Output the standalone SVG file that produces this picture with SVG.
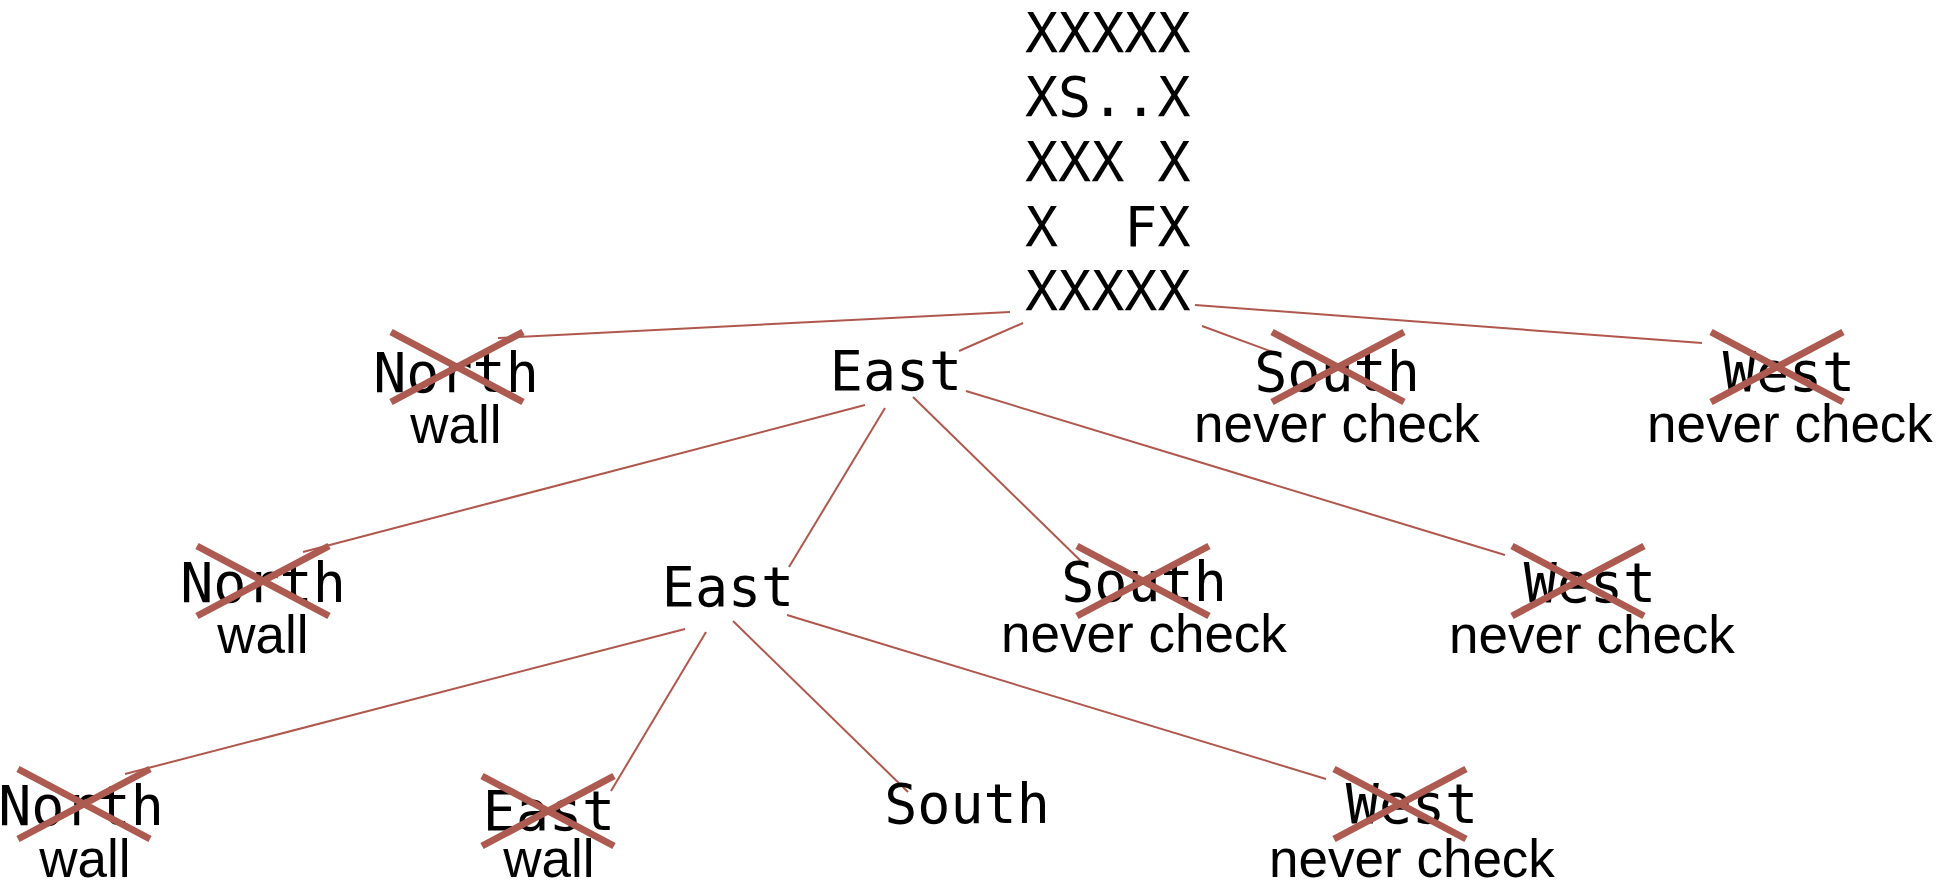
<svg xmlns="http://www.w3.org/2000/svg" width="1954" height="882" viewBox="0 0 1954 882">
  <style>
    .maze { font-family: "DejaVu Sans Mono", "Liberation Mono", monospace; font-size: 55px; fill: #000; white-space: pre; }
    .dir { font-family: "DejaVu Sans Mono", "Liberation Mono", monospace; font-size: 55px; fill: #000; text-anchor: middle; }
    .note { font-family: "Liberation Sans", Arial, sans-serif; font-size: 53px; fill: #000; text-anchor: middle; }
    .edge { stroke: #B0574D; stroke-width: 2; fill: none; }
    .cross { stroke: #AD5A50; stroke-width: 7; fill: none; }
  </style>
  <defs>
    <!-- strike-through cross, centred on the origin -->
    <path id="cross" class="cross" d="M -66 -35 L 66 35 M 66 -35 L -66 35"/>
  </defs>
  <rect width="1954" height="882" fill="#fff"/>

  <!-- connectors -->
  <g id="connectors">
    <line class="edge" x1="1010" y1="312" x2="498" y2="338"/>
    <line class="edge" x1="1023" y1="323" x2="959" y2="351"/>
    <line class="edge" x1="1202" y1="326" x2="1281" y2="355"/>
    <line class="edge" x1="1195" y1="305" x2="1702" y2="343"/>
    <line class="edge" x1="865" y1="405" x2="303" y2="552"/>
    <line class="edge" x1="885" y1="408" x2="789" y2="567"/>
    <line class="edge" x1="913" y1="397" x2="1087" y2="567"/>
    <line class="edge" x1="966" y1="391" x2="1505" y2="555"/>
    <line class="edge" x1="685" y1="629" x2="125" y2="774"/>
    <line class="edge" x1="706" y1="632" x2="611" y2="791"/>
    <line class="edge" x1="733" y1="621" x2="908" y2="792"/>
    <line class="edge" x1="787" y1="615" x2="1326" y2="779"/>
  </g>

  <!-- maze at the root -->
  <g id="maze">
    <text class="maze" x="1025" y="52">XXXXX</text>
    <text class="maze" x="1025" y="116">XS..X</text>
    <text class="maze" x="1025" y="181" xml:space="preserve">XXX X</text>
    <text class="maze" x="1025" y="246" xml:space="preserve">X  FX</text>
    <text class="maze" x="1025" y="310">XXXXX</text>
  </g>

  <!-- first level -->
  <g id="north-1">
    <text class="dir" x="456" y="392">North</text>
    <use href="#cross" x="457" y="367"/>
    <text class="note" x="456" y="443">wall</text>
  </g>
  <g id="east-1">
    <text class="dir" x="896" y="390">East</text>
  </g>
  <g id="south-1">
    <text class="dir" x="1337" y="391">South</text>
    <use href="#cross" x="1338" y="367"/>
    <text class="note" x="1337" y="442">never check</text>
  </g>
  <g id="west-1">
    <text class="dir" x="1789" y="391">West</text>
    <use href="#cross" x="1777" y="367"/>
    <text class="note" x="1790" y="442">never check</text>
  </g>

  <!-- second level -->
  <g id="north-2">
    <text class="dir" x="263" y="602">North</text>
    <use href="#cross" x="263" y="581"/>
    <text class="note" x="263" y="653">wall</text>
  </g>
  <g id="east-2">
    <text class="dir" x="728" y="606">East</text>
  </g>
  <g id="south-2">
    <text class="dir" x="1144" y="601">South</text>
    <use href="#cross" x="1143" y="581"/>
    <text class="note" x="1144" y="652">never check</text>
  </g>
  <g id="west-2">
    <text class="dir" x="1590" y="602">West</text>
    <use href="#cross" x="1578" y="581"/>
    <text class="note" x="1592" y="653">never check</text>
  </g>

  <!-- third level -->
  <g id="north-3">
    <text class="dir" x="81" y="825">North</text>
    <use href="#cross" x="84" y="804"/>
    <text class="note" x="85" y="877">wall</text>
  </g>
  <g id="east-3">
    <text class="dir" x="549" y="830">East</text>
    <use href="#cross" x="548" y="811"/>
    <text class="note" x="549" y="877">wall</text>
  </g>
  <g id="south-3">
    <text class="dir" x="967" y="823">South</text>
  </g>
  <g id="west-3">
    <text class="dir" x="1412" y="823">West</text>
    <use href="#cross" x="1400" y="804"/>
    <text class="note" x="1412" y="877">never check</text>
  </g>
</svg>
